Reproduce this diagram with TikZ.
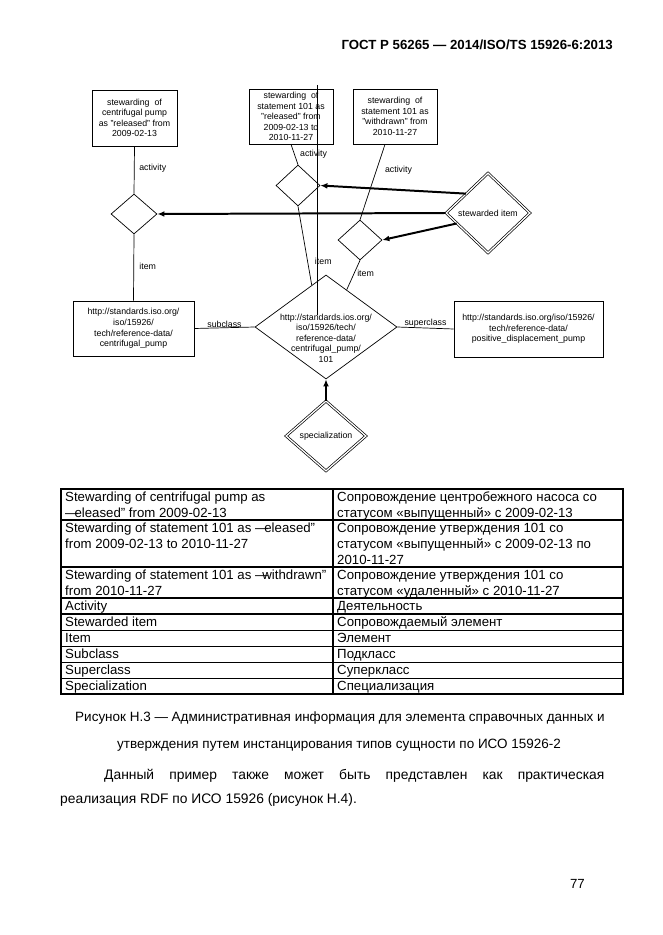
\documentclass[tikz,border=0pt]{standalone}
\usepackage{fontspec}
\setmainfont{Liberation Sans}
\usetikzlibrary{shapes.geometric,arrows.meta,calc}

\begin{document}
\begin{tikzpicture}[
    x=0.03cm, y=-0.03cm,
    small/.style={font=\fontsize{7.5}{9}\selectfont},
    lbl/.style={small, inner sep=1pt},
    box/.style={small, draw, line width=0.6pt, align=center, inner sep=0pt},
    dia/.style={small, draw, diamond, line width=0.6pt, inner sep=0pt},
    twodia/.style={dia, double, double distance=1.1pt},
    link/.style={line width=0.6pt},
    pointer/.style={line width=1.7pt, -{Latex[length=6pt,width=5pt]}},
    body/.style={font=\fontsize{11.3}{13.6}\selectfont, inner sep=0pt},
    cell/.style={body, align=left, anchor=north west},
]
\def\px{0.03cm}

% page area
\path[fill=white] (0,0) rectangle (662,935);

% running head
\node[body, anchor=base east, font=\fontsize{11.3}{13.6}\selectfont\bfseries] (head)
    at (613,50) {ГОСТ Р 56265 — 2014/ISO/TS 15926-6:2013};

% stewarding boxes (top row)
\node[box, minimum width=85*\px, minimum height=56*\px] (st1) at (134.5,118)
    {stewarding~ of\\centrifugal pump\\as "released" from\\2009-02-13};
\node[box, minimum width=84*\px, minimum height=55*\px] (st2) at (291,116.5)
    {stewarding~ of\\statement 101 as\\"released" from\\2009-02-13 to\\2010-11-27};
\node[box, minimum width=84*\px, minimum height=55*\px] (st3) at (395,116.5)
    {stewarding~ of\\statement 101 as\\"withdrawn" from\\2010-11-27};

% class boxes
\node[box, minimum width=121*\px, minimum height=55*\px] (pump) at (133.5,328.5)
    {http://standards.iso.org/\\iso/15926/\\tech/reference-data/\\centrifugal\_pump};
\node[box, minimum width=149*\px, minimum height=56*\px] (pdp) at (528.5,329)
    {http://standards.iso.org/iso/15926/\\tech/reference-data/\\positive\_displacement\_pump};

% activity diamonds
\node[dia, minimum width=46*\px, minimum height=40*\px] (act1) at (134,214) {};
\node[dia, minimum width=44*\px, minimum height=41*\px] (act2) at (298,185.5) {};
\node[dia, minimum width=44*\px, minimum height=40*\px] (act3) at (360,240) {};

% relation diamonds
\node[twodia, minimum width=84*\px, minimum height=80*\px] (stew) at (488,213)
    {stewarded item};
\node[dia, minimum width=142*\px, minimum height=104*\px] (ref) at (326,327) {};
\node[small, align=center, inner sep=0pt] (reftxt) at (326,338)
    {http://standards.ios.org/\\iso/15926/tech/\\reference-data/\\centrifugal\_pump/\\101};
\node[twodia, minimum width=80*\px, minimum height=70*\px] (spec) at (326,436)
    {specialization};

% stray vertical line
\coordinate (vtop) at (317,85);
\coordinate (vbot) at (317,315);
\draw[line width=0.8pt] (vtop) -- (vbot);

% activity / item links
\draw[link] (st1.south) -- (act1.north)
    node[lbl, pos=0.46, right=3pt] {activity};
\draw[link] (act1.south) -- (pump.north)
    node[lbl, pos=0.49, right=3.5pt] {item};
\draw[link] (st2.south) -- (act2.north)
    node[lbl, pos=0.5, right=3.5pt] {activity};
\draw[link] (act2.south) -- ($(ref.north)!0.2!(ref.west)$)
    node[lbl, pos=0.7, right=5pt] {item};
\draw[link] ([xshift=-10*\px]st3.south) -- (act3.north)
    node[lbl, pos=0.34, right=6pt] {activity};
\draw[link] (act3.south) -- ($(ref.north)!0.29!(ref.east)$)
    node[lbl, pos=0.45, right=1.5pt] {item};

% subclass / superclass links
\draw[link] (pump.east) -- (ref.west)
    node[lbl, midway, above=-1pt] {subclass};
\draw[link] (ref.east) -- (pdp.west)
    node[lbl, midway, above=-1pt] {superclass};

% thick arrows
\draw[pointer] ($(stew.west)!0.48!(stew.north)$) -- (act2.east);
\draw[pointer] (stew.west) -- (act1.east);
\draw[pointer] ($(stew.west)!0.26!(stew.south)$) -- (act3.east);
\draw[pointer] (spec.north) -- (ref.south);

% table frame
\draw[line width=1.1pt] (61,489) rectangle (623,694);
\draw[line width=1.1pt] (333,489) -- (333,694);
\foreach \y in {520,567,598,614}
    \draw[line width=1.1pt] (61,\y) -- (623,\y);
\foreach \y in {630,646,662,678}
    \draw[line width=0.7pt] (61,\y) -- (623,\y);

% table text
\foreach \y/\eng/\rus in {
    489/{Stewarding of centrifugal pump as\\—\kern-0.3em eleased” from 2009-02-13}/{Сопровождение центробежного насоса со\\статусом «выпущенный» с 2009-02-13},
    520/{Stewarding of statement 101 as —\kern-0.3em eleased”\\from 2009-02-13 to 2010-11-27}/{Сопровождение утверждения 101 со\\статусом «выпущенный» с 2009-02-13 по\\2010-11-27},
    567/{Stewarding of statement 101 as —\kern-0.45em withdrawn”\\from 2010-11-27}/{Сопровождение утверждения 101 со\\статусом «удаленный» с 2010-11-27},
    598/{Activity}/{Деятельность},
    614/{Stewarded item}/{Сопровождаемый элемент},
    630/{Item}/{Элемент},
    646/{Subclass}/{Подкласс},
    662/{Superclass}/{Суперкласс},
    678/{Specialization}/{Специализация}} {
    \node[cell] (en\y) at (65,\y+1) {\strut\eng};
    \node[cell] (ru\y) at (337,\y+1) {\strut\rus};
}

% caption and text below
\node[body, anchor=base, font=\fontsize{11.5}{13.6}\selectfont] (cap1) at (340,721)
    {Рисунок Н.3 — Административная информация для элемента справочных данных и};
\node[body, anchor=base, font=\fontsize{11.5}{13.6}\selectfont] (cap2) at (339,748)
    {утверждения путем инстанцирования типов сущности по ИСО 15926-2};
\node[body, anchor=base west, font=\fontsize{11.8}{14}\selectfont] (par1) at (104,779)
    {\makebox[15cm][s]{Данный пример также может быть представлен как практическая}};
\node[body, anchor=base west, font=\fontsize{11.8}{14}\selectfont] (par2) at (60,803)
    {реализация RDF по ИСО 15926 (рисунок Н.4).};
\node[body, anchor=base east] (pageno) at (585,888) {77};

\end{tikzpicture}
\end{document}
